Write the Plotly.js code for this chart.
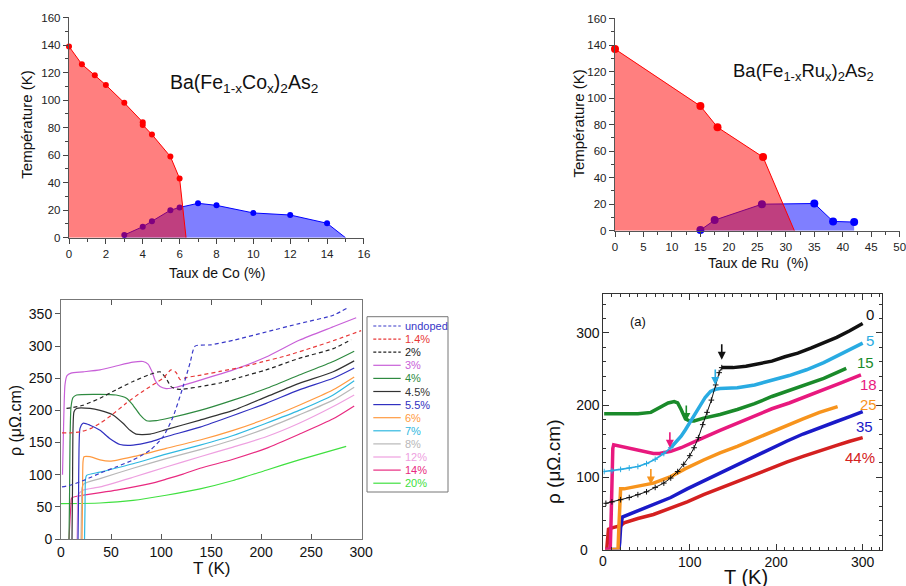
<!DOCTYPE html>
<html><head><meta charset="utf-8">
<script src="https://cdn.plot.ly/plotly-3.0.1.min.js"></script>
<style>html,body{margin:0;padding:0;background:#fff;}#chart{width:906px;height:586px;}</style>
</head><body><div id="chart"></div>
<script>
// ---------- Panel A : Ba(Fe1-xCox)2As2 phase diagram ----------
const coRedX = [0, 0.7, 1.4, 2, 3, 4, 4, 4.5, 5.5, 6];
const coRedY = [139, 126, 118, 111, 98, 84, 82, 75, 59, 43];
const coRedEndX = 6.35;               // where the red line reaches 0 K
const coBlueX = [3, 4, 4.5, 5.5, 6, 7, 8, 10, 12, 14];
const coBlueY = [2, 8, 12, 20, 22, 25, 23.5, 18, 16.5, 10.5];
const coBlueEndX = 15;                // where Tc reaches 0 K

// ---------- Panel B : Ba(Fe1-xRux)2As2 phase diagram ----------
const ruRedX = [0, 15, 18, 26];
const ruRedY = [137, 94, 78, 55.5];
const ruRedEndX = 31.5;
const ruBlueX = [15, 17.5, 25.8, 35, 38.3, 42];
const ruBlueY = [0.5, 8, 20, 20.5, 7, 6.5];

// ---------- Panel C : resistivity, Co doping ----------
const coNames = ['undoped','1.4%','2%','3%','4%','4.5%','5.5%','6%','7%','8%','12%','14%','20%'];
const coColors = ['#3838c8','#e83838','#222222','#c860d8','#2e8a40','#333333','#3030c0','#ff9a40','#30b8e0','#b8b8b8','#eea0e0','#e82a80','#40e040'];
const coDashed = [true,true,true,false,false,false,false,false,false,false,false,false,false];
const coT = [
  [1,10,24,40,55,72,89,102,112,122,129,134,150,172,205,238,272,287],
  [1,10,20,30,39,50,65,80,89,102,110,115,119,125,140,160,180,200,225,250,275,300],
  [5.5,10,22,39,55,72,89,99,105,110,116,122,139,160,180,205,238,272,290],
  [1.5,2.5,4,6,10,22,39,55,72,82,87,91,94,99,105,115,139,172,205,238,272,295],
  [8,8.5,9,10,12,15.6,39,55,65.5,72,79,85.5,95,105,139,172,205,238,272,293],
  [11,11.5,12,13,15.6,29,39,52,62,69,75,89,105,139,172,205,238,272,293],
  [17,17.5,18,19,22,29,39,49,59,72,89,105,139,172,205,238,272,293],
  [21,21.5,22,23,29,39,49,72,105,139,172,205,238,272,293],
  [23.5,24,24.5,25.6,39,72,105,139,172,205,238,272,293],
  [20,20.5,21,23,39,72,105,139,172,205,238,272,293],
  [16,16.5,17,22,39,72,105,139,172,205,238,272,293],
  [8,9,10,10.7,22,55.6,89,105,122,139,172,205,238,272,293],
  [0,39,72,105,139,172,205,238,285]
];
const coR = [
  [81,84,92,103,112,123,138,159,190,237,274,300,302,309,322,335,348,360],
  [165,165,167,172,180,192,211,228,237,250,263,259,248,251,255,261,267,275,285,297,310,324],
  [203,204,208,219,232,245,256,260,250,237,233,233,237,243,252,263,281,296,310],
  [100,170,240,254,258,260,263,269,275,276,272,260,247,237,234,236,247,263,283,309,330,344],
  [0,60,150,205,220,224,225,224,219,208,193,184,184,187,200,216,234,255,276,292],
  [0,80,170,198,203,203,200,193,180,169,163,163,170,185,200,221,242,260,277],
  [0,60,140,172,180,177,169,156,147,146,151,159,174,192,211,232,250,266],
  [0,60,120,128,128,123,121,128,141,154,169,187,208,232,252],
  [0,50,93,99,104,117,132,146,161,180,200,224,246],
  [0,50,80,86,94,110,125,139,154,172,193,216,236],
  [0,40,68,76,81,96,112,128,143,159,180,206,224],
  [0,30,55,64,68,76,86,93,101,110,124,141,163,187,207],
  [55,56,60,68,78,91,107,123,144]
];

// ---------- Panel D : resistivity, Ru doping ----------
const ru0LowT = [3,10,20,30,40,50,60,70,78,86,93,100,105,110,115,120,125,130,134,137];
const ru0LowR = [64,66,69,72,76,80,86,92,99,108,118,130,141,155,173,190,207,228,245,252];
const ru0HighT = [137,150,165,180,195,210,225,240,255,270,285,300];
const ru0HighR = [252,252,254,257,261,267,272,279,286,294,303,313];
const ru5LowT = [1,10,20,30,40,50,60,70,78];
const ru5LowR = [108,109,111,113,115,119,125,133,141];
const ru5HighT = [78,85,90,95,101,107,112,118,124,130,135,145,155,175,195,215,235,255,270,285,300];
const ru5HighR = [141,150,157,166,178,190,201,211,219,222,223,223,224,228,234,241,249,259,268,277,286];
const ru15T = [1,20,40,55,65,75,82,86,90,95,100,105,116,135,155,175,195,215,235,255,270,281];
const ru15R = [188,188,188,190,196,203,205,203,194,181,178,178,182,187,194,202,212,220,228,237,245,251];
const ru18T = [2,5,8,9,10,11,12,20,30,40,50,58,65,78,90,100,116,135,155,175,195,215,235,255,275,298];
const ru18R = [0,0,0,40,100,140,145,143,140,138,135,133,133,136,141,146,155,165,175,185,195,203,212,221,231,242];
const ru25T = [2,8,14,17,18,19,20,24,40,58,78,95,116,135,155,175,193,212,231,250,271];
const ru25R = [0,0,0,0,30,70,84,84,88,92,101,112,124,134,143,153,163,172,181,190,198];
const ru35T = [2,10,18,19,20,22,24,40,58,78,97,116,135,155,175,193,212,231,250,269,285,300];
const ru35R = [0,0,0,10,30,45,46,54,62,72,84,95,106,118,129,140,150,160,169,177,184,191];
const ru44T = [2,4,5,6,10,15,20,24,40,58,78,97,116,135,155,175,193,212,231,250,269,285,300];
const ru44R = [0,0,15,28,30,31,33,37,43,48.5,57,66,76,85,95,104,113,121,129,137,144,150,155];
const ruTicks = [0, 100, 200, 300];
const ruLabels = ['0','5','15','18','25','35','44%'];
const ruLabelColors = ['#111111','#29abe2','#1a8a2a','#e8197e','#f7941d','#1a1ac8','#d42020'];
const ruLabelT = [308.5,308.5,303.5,307,307,302.5,297];
const ruLabelR = [326,289.5,259,229,201,171,127];
const arrowT = [137,129.5,96,77,55];
const arrowTip = [263,228,178,141,90];
const arrowColors = ['#111111','#29abe2','#1a8a2a','#e8197e','#f7941d'];

// ---------- layout helpers ----------
const W = 906, H = 586;
const px = v => v / W, py = v => 1 - v / H;
const FONT = 'Arial, "Liberation Sans", sans-serif';
const traces = [];

// Panel A traces
traces.push({x:[...coBlueX, coBlueEndX], y:[...coBlueY, 0], xaxis:'x', yaxis:'y', mode:'lines', fill:'tozeroy',
  fillcolor:'rgba(0,0,255,0.5)', line:{color:'#0000ff', width:1}, hoverinfo:'skip'});
traces.push({x:coBlueX, y:coBlueY, xaxis:'x', yaxis:'y', mode:'markers', marker:{color:'#0000ff', size:6}, cliponaxis:false});
traces.push({x:[...coRedX, coRedEndX], y:[...coRedY, 0], xaxis:'x', yaxis:'y', mode:'lines', fill:'tozeroy',
  fillcolor:'rgba(255,0,0,0.5)', line:{color:'#ff0000', width:1}});
traces.push({x:coRedX, y:coRedY, xaxis:'x', yaxis:'y', mode:'markers', marker:{color:'#ff0000', size:6}, cliponaxis:false});

// Panel B traces
traces.push({x:ruBlueX, y:ruBlueY, xaxis:'x2', yaxis:'y2', mode:'lines', fill:'tozeroy',
  fillcolor:'rgba(0,0,255,0.5)', line:{color:'#0000ff', width:1}});
traces.push({x:ruBlueX, y:ruBlueY, xaxis:'x2', yaxis:'y2', mode:'markers', marker:{color:'#0000ff', size:8}, cliponaxis:false});
traces.push({x:[...ruRedX, ruRedEndX], y:[...ruRedY, 0], xaxis:'x2', yaxis:'y2', mode:'lines', fill:'tozeroy',
  fillcolor:'rgba(255,0,0,0.5)', line:{color:'#ff0000', width:1}});
traces.push({x:ruRedX, y:ruRedY, xaxis:'x2', yaxis:'y2', mode:'markers', marker:{color:'#ff0000', size:8}, cliponaxis:false});

// Panel C traces (draw from last to first so dashed ones on top)
for (let i = coNames.length - 1; i >= 0; i--) {
  traces.push({x:coT[i], y:coR[i], xaxis:'x3', yaxis:'y3', mode:'lines', name:coNames[i],
    line:{color:coColors[i], width:1.2, dash: coDashed[i] ? '4px,3px' : 'solid', shape:'spline', smoothing:0.6}});
}

// Panel D traces
const ruLine = (x, y, c, w, m) => ({x, y, xaxis:'x4', yaxis:'y4', mode: m ? 'lines+markers' : 'lines',
  line:{color:c, width:w}, marker:{symbol:'cross-thin', size:4, line:{color:c, width:1}}});
traces.push(ruLine(ru44T, ru44R, '#d42020', 3.5, false));
traces.push(ruLine(ru35T, ru35R, '#1a1ac8', 3.5, false));
traces.push(ruLine(ru25T, ru25R, '#f7941d', 3.5, false));
traces.push(ruLine(ru18T, ru18R, '#e8197e', 3.5, false));
traces.push(ruLine(ru15T, ru15R, '#1a8a2a', 3.5, false));
traces.push(ruLine(ru5LowT, ru5LowR, '#29abe2', 1.6, true));
traces.push(ruLine(ru5HighT, ru5HighR, '#29abe2', 3.5, false));
traces.push(ruLine(ru0LowT, ru0LowR, '#111111', 1, true));
traces.push(ruLine(ru0HighT, ru0HighR, '#111111', 3.5, false));

const tickFontS = {family:FONT, size:11.5, color:'#222'};
const tickFontL = {family:FONT, size:14, color:'#111'};

const layout = {
  width:W, height:H, margin:{l:0,r:0,t:0,b:0}, paper_bgcolor:'#fff', plot_bgcolor:'rgba(0,0,0,0)',
  showlegend:false, font:{family:FONT},
  xaxis:{domain:[px(69),px(364.3)], range:[0,16.02], anchor:'y', dtick:2, ticks:'outside', ticklen:5, tickcolor:'#444',
    minor:{dtick:1, ticks:'outside', ticklen:3, tickcolor:'#444'}, showline:true, linecolor:'#555', linewidth:1.2,
    showgrid:false, zeroline:false, tickfont:tickFontS, ticklabeloverflow:'allow'},
  yaxis:{domain:[py(237.7),py(17.3)], range:[0,160.2], anchor:'x', dtick:20, ticks:'outside', ticklen:5, tickcolor:'#444',
    minor:{dtick:10, ticks:'outside', ticklen:3, tickcolor:'#444'}, showline:true, linecolor:'#555', linewidth:1.2,
    showgrid:false, zeroline:false, tickfont:tickFontS, ticklabeloverflow:'allow'},
  xaxis2:{domain:[px(615),px(900)], range:[0,50.05], anchor:'y2', dtick:5, ticks:'outside', ticklen:5, tickcolor:'#444',
    minor:{dtick:2.5, ticks:'outside', ticklen:3, tickcolor:'#444'}, showline:true, linecolor:'#555', linewidth:1.2,
    showgrid:false, zeroline:false, tickfont:tickFontS, ticklabeloverflow:'allow'},
  yaxis2:{domain:[py(230.7),py(18.3)], range:[0,160.2], anchor:'x2', dtick:20, ticks:'outside', ticklen:5, tickcolor:'#444',
    minor:{dtick:10, ticks:'outside', ticklen:3, tickcolor:'#444'}, showline:true, linecolor:'#555', linewidth:1.2,
    showgrid:false, zeroline:false, tickfont:tickFontS, ticklabeloverflow:'allow'},
  xaxis3:{domain:[px(61),px(361.7)], range:[0,300.5], anchor:'y3', dtick:50, ticks:'inside', ticklen:5, tickcolor:'#555',
    showline:true, mirror:'ticks', linecolor:'#777', linewidth:1, showgrid:false, zeroline:false, tickfont:tickFontL, ticklabeloverflow:'allow'},
  yaxis3:{domain:[py(539),py(300)], range:[0,371.7], anchor:'x3', dtick:50, ticks:'outside', ticklen:5, tickcolor:'#555',
    showline:true, mirror:true, linecolor:'#777', linewidth:1, showgrid:false, zeroline:false, tickfont:tickFontL, ticklabeloverflow:'allow'},
  // the "0" labels of panel D are drawn as annotations below (Plotly dropped them at the corner)
  xaxis4:{domain:[px(603.3),px(881.7)], range:[0,322], anchor:'y4', tickmode:'array', tickvals:ruTicks.slice(1), ticktext:ruTicks.slice(1).map(String),
    ticks:'inside', ticklen:6, tickcolor:'#333',
    minor:{tickmode:'linear', tick0:0, dtick:10, ticks:'inside', ticklen:3, tickcolor:'#333'},
    showline:true, mirror:'ticks', linecolor:'#333', linewidth:1, showgrid:false, zeroline:false, tickfont:tickFontL, ticklabeloverflow:'allow'},
  yaxis4:{domain:[py(549.5),py(294)], range:[0,354], anchor:'x4', tickmode:'array', tickvals:ruTicks.slice(1), ticktext:ruTicks.slice(1).map(String),
    ticks:'inside', ticklen:6, tickcolor:'#333',
    minor:{tickmode:'linear', tick0:0, dtick:20, ticks:'inside', ticklen:3, tickcolor:'#333'},
    showline:true, mirror:'ticks', linecolor:'#333', linewidth:1, showgrid:false, zeroline:false, tickfont:tickFontL, ticklabeloverflow:'allow'},
  annotations:[], shapes:[]
};

const ann = (text, x, y, size, opts={}) => Object.assign({text, x:px(x), y:py(y), xref:'paper', yref:'paper',
  showarrow:false, font:{family:FONT, size, color:'#111'}, xanchor:'center', yanchor:'middle'}, opts);

layout.annotations.push(ann('Taux de Co (%)', 216.7, 272.7, 14));
layout.annotations.push(ann('Température (K)', 26.7, 125, 15, {textangle:-90}));
layout.annotations.push(ann('Ba(Fe<sub>1-x</sub>Co<sub>x</sub>)<sub>2</sub>As<sub>2</sub>', 243.5, 83.3, 19.5));
layout.annotations.push(ann('Taux de Ru  (%)', 757.7, 263.3, 14));
layout.annotations.push(ann('Température (K)', 578.3, 123.3, 15, {textangle:-90}));
layout.annotations.push(ann('Ba(Fe<sub>1-x</sub>Ru<sub>x</sub>)<sub>2</sub>As<sub>2</sub>', 803.3, 71.7, 18.5));
layout.annotations.push(ann('T (K)', 211.5, 568, 17));
layout.annotations.push(ann('ρ (μΩ.cm)', 15, 421, 16, {textangle:-90}));
layout.annotations.push(ann('T (K)', 746, 577, 20));
layout.annotations.push(ann('ρ (μΩ.cm)', 553, 462, 19, {textangle:-90}));
layout.annotations.push(ann('(a)', 638.3, 321.7, 13));
// Panel D zero tick labels, anchored to the axes' zero
layout.annotations.push({text:String(ruTicks[0]), x:ruTicks[0], y:0, xref:'x4', yref:'paper', yshift:-12 - 0,
  showarrow:false, font:tickFontL, xanchor:'center', yanchor:'middle'});
layout.annotations.push({text:String(ruTicks[0]), x:0, y:ruTicks[0], xref:'paper', yref:'y4',
  showarrow:false, font:tickFontL, xanchor:'center', yanchor:'middle'});
// fix positions of those two (paper coordinates of the label centres)
layout.annotations[layout.annotations.length - 2].y = py(561);
layout.annotations[layout.annotations.length - 2].yshift = 0;
layout.annotations[layout.annotations.length - 1].x = px(584);

// Panel D labels and arrows
ruLabels.forEach((t, i) => layout.annotations.push({text:t, x:ruLabelT[i], y:ruLabelR[i], xref:'x4', yref:'y4',
  showarrow:false, font:{family:FONT, size:15, color:ruLabelColors[i]}, xanchor:'center', yanchor:'middle'}));
arrowT.forEach((t, i) => layout.annotations.push({text:' ', x:t, y:arrowTip[i], xref:'x4', yref:'y4',
  showarrow:true, ax:0, ay:-24, arrowhead:2, arrowsize:1, arrowwidth:1.6, arrowcolor:arrowColors[i]}));

// Panel C manual legend
const legL = 367, legR = 448, legT = 316.7, legB = 492, row0 = 326, rowH = 13.1;
layout.shapes.push({type:'rect', xref:'paper', yref:'paper', x0:px(legL), x1:px(legR), y0:py(legB), y1:py(legT),
  line:{color:'#777', width:1}, fillcolor:'rgba(0,0,0,0)'});
coNames.forEach((n, i) => {
  const yy = row0 + i * rowH;
  layout.shapes.push({type:'line', xref:'paper', yref:'paper', x0:px(373.3), x1:px(400.7), y0:py(yy), y1:py(yy),
    line:{color:coColors[i], width:1.2, dash: coDashed[i] ? '3px,2px' : 'solid'}});
  layout.annotations.push(ann(n, 403.3, yy, 11, {xanchor:'left', font:{family:FONT, size:11, color:coColors[i]}}));
});

Plotly.newPlot('chart', traces, layout, {displayModeBar:false, staticPlot:true});
</script></body></html>
